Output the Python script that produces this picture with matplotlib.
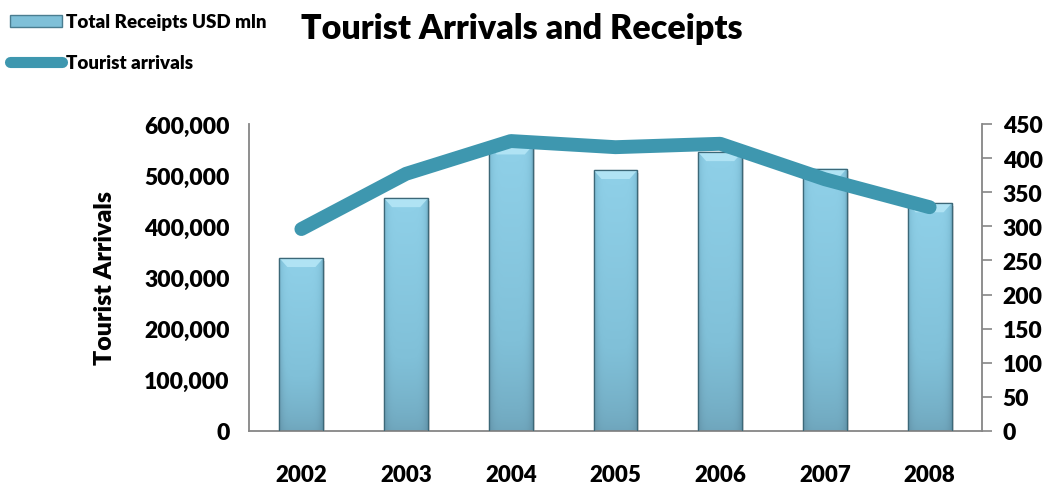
import matplotlib
matplotlib.use("Agg")
import matplotlib.pyplot as plt
import numpy as np
from matplotlib.colors import LinearSegmentedColormap
from matplotlib.patches import Rectangle, Polygon
from matplotlib.lines import Line2D
from matplotlib.ticker import FuncFormatter

plt.rcParams['font.family'] = ['Lato', 'DejaVu Sans']
plt.rcParams['font.weight'] = 'heavy'
plt.rcParams['axes.labelweight'] = 'heavy'

years = ['2002', '2003', '2004', '2005', '2006', '2007', '2008']
bar_values = [338000, 455000, 558000, 510000, 545000, 513000, 445000]
line_values = [296, 377, 425, 416, 421, 369, 328]

bar_label = 'Total Receipts USD mln'
line_label = 'Tourist arrivals'

BAR_TOP = '#8FD0E8'
BAR_BOTTOM = '#6A9EB4'
LINE_COLOR = '#3E97AF'
AXIS_GREY = '#868686'

fig = plt.figure(figsize=(10.49, 4.85), dpi=100)
ax = fig.add_axes([0.2374, 0.1093, 0.6987, 0.633])
ax2 = ax.twinx()

x = np.arange(len(years))
bars = ax.bar(x, bar_values, width=0.42, color=BAR_BOTTOM,
              edgecolor='#3C6878', linewidth=0.9, zorder=2)

# vertical gradient with darker sides, clipped to each bar
cmap = LinearSegmentedColormap.from_list('bar', ['#4F8299', BAR_BOTTOM, '#80C0D8', BAR_TOP])
grad_v = 0.4 + 0.6 * np.linspace(0, 1, 256)[:, None] ** 0.7
grad_h = 1 - 0.5 * np.abs(np.linspace(-1, 1, 64))[None, :] ** 6
grad = grad_v * grad_h
px_y = 600000 / 307.3    # data units per pixel, left axis
px_x = 1 / 104.7         # data units per pixel, category axis
for b in bars:
    bx, by = b.get_x(), b.get_y()
    bw, bh = b.get_width(), b.get_height()
    # soft shadow to the right
    ax.add_patch(Rectangle((bx + 2 * px_x, by - 3 * px_y), bw, bh,
                           facecolor='#000000', alpha=0.12,
                           edgecolor='none', zorder=1.9))
    im = ax.imshow(grad, cmap=cmap, origin='lower', aspect='auto',
                   extent=[bx, bx + bw, by, by + bh], zorder=2.5,
                   vmin=0, vmax=1)
    im.set_clip_path(b)
    # bevelled top
    top = by + bh
    ix, iy = 8 * px_x, 9 * px_y
    ax.add_patch(Polygon([(bx, top), (bx + bw, top), (bx + bw - ix, top - iy),
                          (bx + ix, top - iy)], closed=True,
                         facecolor='#B4E6F6', edgecolor='none', alpha=0.9,
                         zorder=2.6))
    ax.add_patch(Rectangle((bx, by), bw, bh, facecolor='none',
                           edgecolor='#3C6878', linewidth=0.9, zorder=2.7))

ax.set_xlim(-0.5, len(years) - 0.5)
ax.set_ylim(0, 600000)
ax.set_yticks(np.arange(0, 600001, 100000))
ax.yaxis.set_major_formatter(FuncFormatter(lambda v, p: f'{int(v):,}'))
ax.set_xticks(x)
ax.set_xticklabels(years)
ax.tick_params(axis='x', length=0, pad=24, labelsize=16)
ax.tick_params(axis='y', length=0, pad=14, labelsize=16.5)
ax.set_ylabel('Tourist Arrivals', fontsize=18, fontweight='heavy', labelpad=20)

ax2.plot(x, line_values, color=LINE_COLOR, linewidth=10,
         solid_capstyle='round', solid_joinstyle='round', zorder=3)
ax2.set_ylim(0, 450)
ax2.set_yticks(np.arange(0, 451, 50))
ax2.tick_params(axis='y', direction='out', length=7, width=1.2,
                color=AXIS_GREY, pad=8, labelsize=16.5)

for a in (ax, ax2):
    a.spines['top'].set_visible(False)
    for s in ('left', 'right', 'bottom'):
        a.spines[s].set_color(AXIS_GREY)
        a.spines[s].set_linewidth(1.3)
ax.spines['right'].set_visible(False)
ax2.spines['left'].set_visible(False)
ax2.spines['bottom'].set_visible(False)
ax.set_zorder(ax2.get_zorder() - 1)
ax2.patch.set_visible(False)

fig.text(0.497, 0.94, 'Tourist Arrivals and Receipts', ha='center',
         va='center', fontsize=24.5)

# legend in the upper left corner
handles = [Rectangle((0, 0), 1, 1, facecolor='#7FC0D8', edgecolor='#4A7D90'),
           Line2D([0], [0], color=LINE_COLOR, linewidth=8,
                  solid_capstyle='round')]
fig.legend(handles, [bar_label, line_label], loc='upper left',
           bbox_to_anchor=(0.004, 0.982), frameon=False, fontsize=13.5,
           handlelength=2.8, handleheight=0.6, handletextpad=0.2,
           labelspacing=1.25, borderaxespad=0, borderpad=0.3)

fig.savefig('out.png', dpi=100)
